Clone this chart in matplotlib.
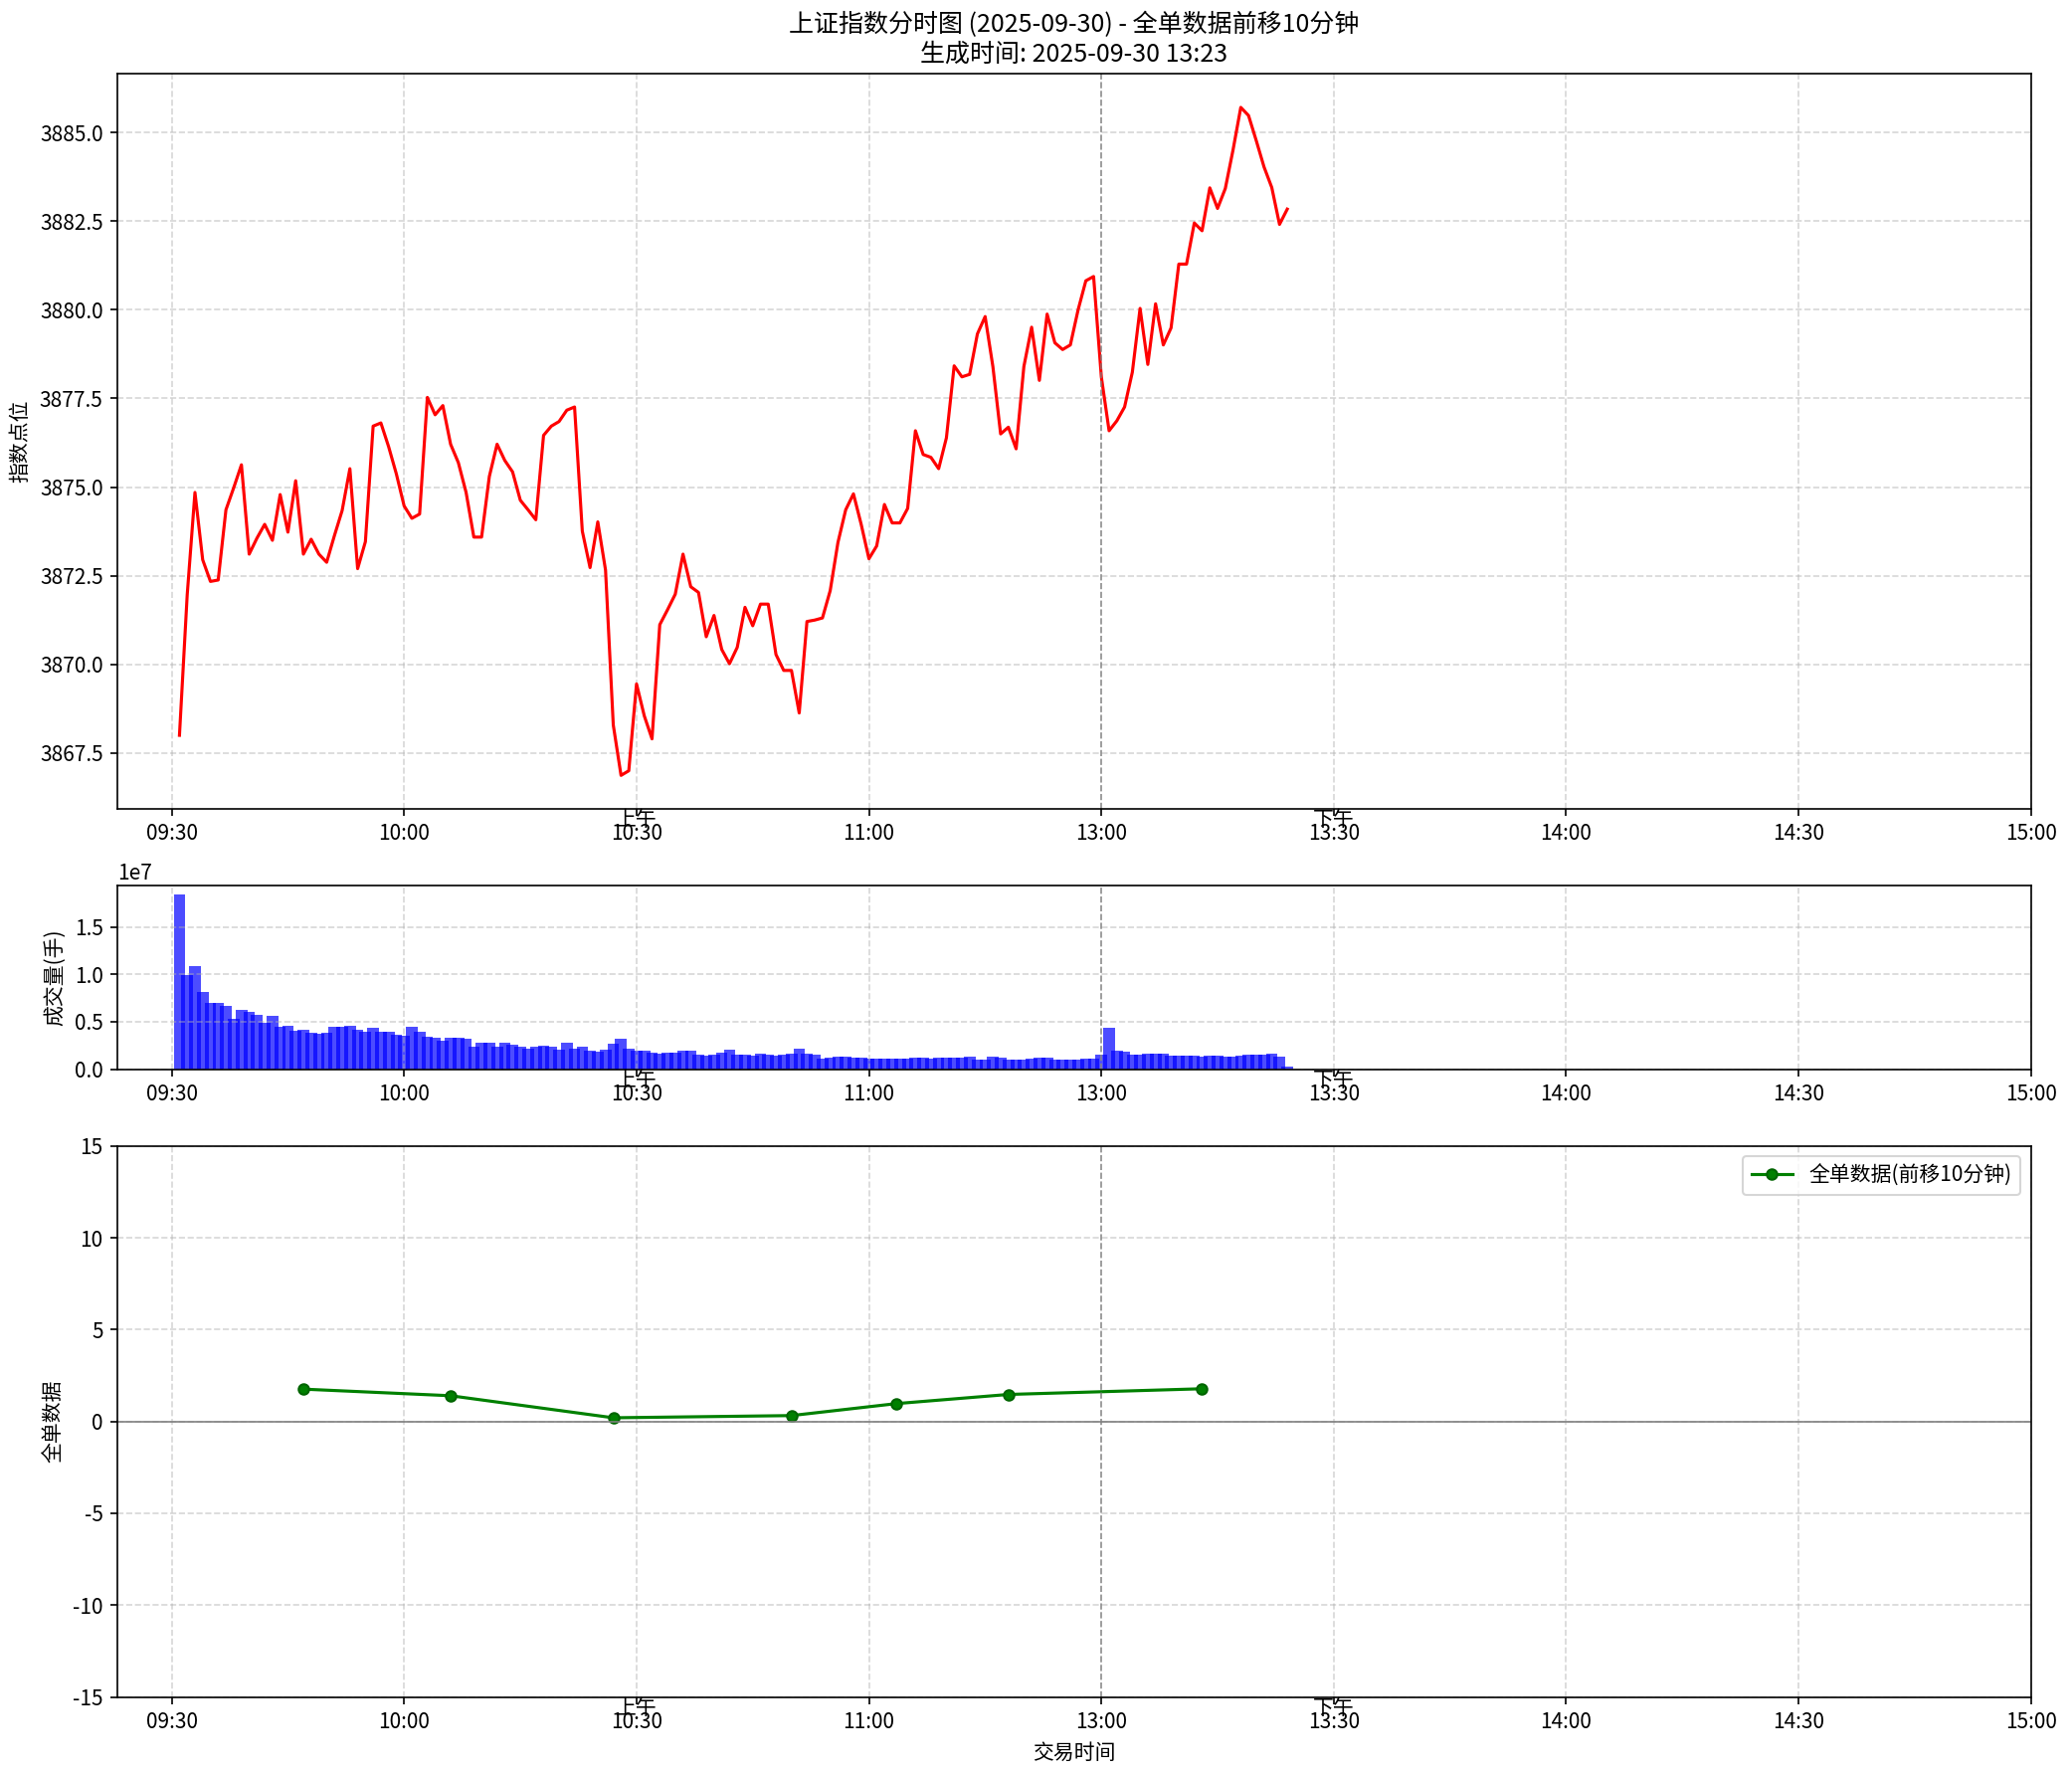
import numpy as np
import matplotlib
matplotlib.use('Agg')
import matplotlib.pyplot as plt
import matplotlib.transforms as mtransforms

plt.rcParams['font.family'] = ['Noto Sans CJK SC', 'DejaVu Sans']
plt.rcParams['axes.unicode_minus'] = False

# 分时数据 (分钟序号 1..144, 11:30 与 13:00 合并为 120)
price = [3868.00, 3871.96, 3874.85, 3872.95, 3872.34, 3872.38, 3874.36, 3874.98, 3875.63, 3873.11,
         3873.56, 3873.95, 3873.50, 3874.79, 3873.73, 3875.18, 3873.11, 3873.53, 3873.11, 3872.88,
         3873.63, 3874.34, 3875.52, 3872.70, 3873.46, 3876.72, 3876.81, 3876.14, 3875.37, 3874.47,
         3874.12, 3874.24, 3877.53, 3877.04, 3877.30, 3876.21, 3875.69, 3874.85, 3873.59, 3873.59,
         3875.30, 3876.21, 3875.75, 3875.43, 3874.63, 3874.36, 3874.08, 3876.46, 3876.72, 3876.85,
         3877.17, 3877.26, 3873.76, 3872.73, 3874.02, 3872.66, 3868.29, 3866.87, 3867.00, 3869.45,
         3868.55, 3867.90, 3871.12, 3871.54, 3871.98, 3873.11, 3872.19, 3872.03, 3870.78, 3871.38,
         3870.42, 3870.02, 3870.48, 3871.61, 3871.09, 3871.70, 3871.70, 3870.28, 3869.83, 3869.83,
         3868.63, 3871.21, 3871.25, 3871.31, 3872.08, 3873.44, 3874.36, 3874.81, 3873.95, 3872.98,
         3873.34, 3874.51, 3873.99, 3873.99, 3874.40, 3876.59, 3875.92, 3875.84, 3875.52, 3876.39,
         3878.42, 3878.11, 3878.18, 3879.32, 3879.81, 3878.40, 3876.50, 3876.69, 3876.08, 3878.40,
         3879.51, 3878.01, 3879.88, 3879.07, 3878.88, 3879.01, 3880.00, 3880.82, 3880.94, 3878.11,
         3876.59, 3876.87, 3877.26, 3878.24, 3880.04, 3878.46, 3880.17, 3879.01, 3879.49, 3881.29,
         3881.29, 3882.45, 3882.23, 3883.44, 3882.86, 3883.42, 3884.51, 3885.71, 3885.48, 3884.77,
         3884.03, 3883.45, 3882.41, 3882.84]

# 成交量, 单位 1e7 手
volume_e7 = [1.844, 0.99, 1.085, 0.81, 0.695, 0.695, 0.67, 0.527, 0.62, 0.60,
             0.57, 0.49, 0.56, 0.446, 0.453, 0.404, 0.42, 0.386, 0.376, 0.38,
             0.45, 0.446, 0.46, 0.42, 0.393, 0.44, 0.39, 0.39, 0.358, 0.348,
             0.45, 0.39, 0.337, 0.333, 0.30, 0.333, 0.333, 0.316, 0.242, 0.28,
             0.28, 0.242, 0.28, 0.253, 0.239, 0.22, 0.232, 0.25, 0.239, 0.21,
             0.28, 0.22, 0.239, 0.20, 0.186, 0.207, 0.27, 0.316, 0.22, 0.20,
             0.20, 0.176, 0.165, 0.176, 0.176, 0.193, 0.20, 0.155, 0.14, 0.155,
             0.176, 0.21, 0.155, 0.155, 0.14, 0.169, 0.158, 0.14, 0.158, 0.169,
             0.22, 0.169, 0.155, 0.116, 0.12, 0.13, 0.133, 0.126, 0.126, 0.116,
             0.116, 0.116, 0.116, 0.116, 0.109, 0.126, 0.117, 0.112, 0.126, 0.126,
             0.123, 0.119, 0.137, 0.105, 0.105, 0.137, 0.126, 0.10, 0.10, 0.10,
             0.116, 0.126, 0.119, 0.105, 0.105, 0.105, 0.105, 0.116, 0.116, 0.158,
             0.44, 0.19, 0.18, 0.158, 0.158, 0.169, 0.169, 0.169, 0.144, 0.144,
             0.14, 0.144, 0.137, 0.144, 0.148, 0.137, 0.13, 0.148, 0.155, 0.158,
             0.158, 0.169, 0.13, 0.025]

# 全单数据 (前移10分钟)
flow_pos = [17, 36, 57, 80, 93.5, 108, 133]
flow_val = [1.76, 1.40, 0.20, 0.32, 0.97, 1.47, 1.78]

tick_pos = [0, 30, 60, 90, 120, 150, 180, 210, 240]
tick_lab = ['09:30', '10:00', '10:30', '11:00', '13:00', '13:30', '14:00', '14:30', '15:00']

minutes = np.arange(1, len(price) + 1)
volume = np.array(volume_e7) * 1e7

fig = plt.figure(figsize=(2083 / 150, 1783 / 150), dpi=150)
gs = fig.add_gridspec(3, 1, height_ratios=[4, 1, 3], left=0.0567, right=0.9802,
                      top=0.9583, bottom=0.0434, hspace=0.1566)
ax1 = fig.add_subplot(gs[0])
ax2 = fig.add_subplot(gs[1])
ax3 = fig.add_subplot(gs[2])

ax1.plot(minutes, price, color='red', linewidth=1.5)
ax1.set_ylabel('指数点位')
ax1.set_title('上证指数分时图 (2025-09-30) - 全单数据前移10分钟\n生成时间: 2025-09-30 13:23', fontsize=12)

ax2.bar(minutes, volume, width=1.5, color='blue', alpha=0.7)
ax2.set_ylabel('成交量(手)')

ax3.plot(flow_pos, flow_val, color='green', marker='o', markersize=5,
         markeredgecolor='darkgreen', linewidth=1.5, label='全单数据(前移10分钟)')
ax3.axhline(0, color='gray', linewidth=0.8)
ax3.set_ylim(-15, 15)
ax3.set_ylabel('全单数据')
ax3.set_xlabel('交易时间')
ax3.legend(loc='upper right')

for ax in (ax1, ax2, ax3):
    ax.set_xlim(-7, 240)
    ax.set_xticks(tick_pos)
    ax.set_xticklabels(tick_lab)
    ax.grid(True, linestyle='--', alpha=0.5)
    ax.axvline(120, color='gray', linestyle='--', linewidth=0.8, alpha=0.8)
    trans = mtransforms.blended_transform_factory(ax.transData, ax.transAxes)
    ax.text(60, 0, '上午', transform=trans, ha='center', va='top', fontsize=10)
    ax.text(150, 0, '下午', transform=trans, ha='center', va='top', fontsize=10)

fig.savefig('out.png', dpi=150)
